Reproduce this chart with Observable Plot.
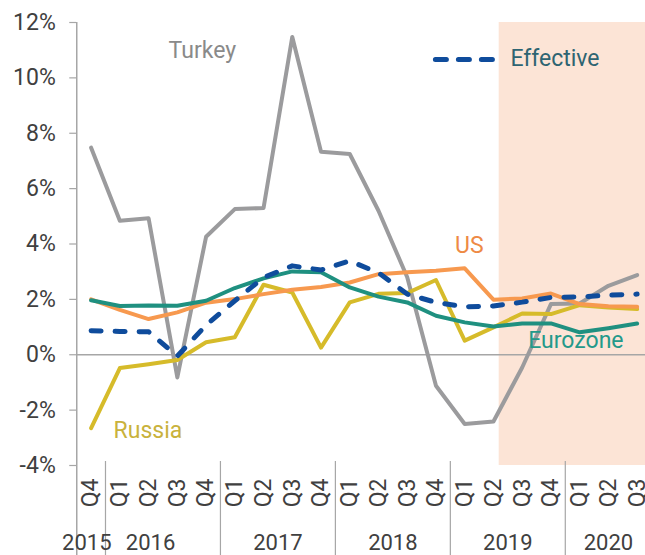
<!DOCTYPE html>
<html><head><meta charset="utf-8">
<script src="https://cdn.jsdelivr.net/npm/d3@7"></script>
<script src="https://cdn.jsdelivr.net/npm/@observablehq/plot@0.6"></script>
<style>
html,body{margin:0;padding:0;background:#fff;overflow:hidden}
#chart svg{display:block;overflow:visible}
</style></head><body><div id="chart"></div>
<script>
// Quarter labels, 2015 Q4 .. 2020 Q3
const quarters = ["Q4","Q1","Q2","Q3","Q4","Q1","Q2","Q3","Q4","Q1","Q2","Q3","Q4","Q1","Q2","Q3","Q4","Q1","Q2","Q3"];
const years = ["2015","2016","2017","2018","2019","2020"];
const yearPos = [-0.15, 2.07, 6.5, 10.5, 14.5, 18];
const yearBounds = [-0.5, 0.5, 4.5, 8.5, 12.5, 16.5];
const yTicks = [-4, -2, 0, 2, 4, 6, 8, 10, 12];

// Series values (% y/y)
const turkey    = [7.48, 4.84, 4.93, -0.82, 4.26, 5.26, 5.30, 11.48, 7.33, 7.25, 5.2, 2.8, -1.12, -2.5, -2.41, -0.46, 1.83, 1.85, 2.49, 2.88];
const us        = [2.0, 1.62, 1.29, 1.53, 1.88, 2.01, 2.19, 2.35, 2.45, 2.61, 2.91, 2.98, 3.03, 3.12, 1.99, 2.03, 2.21, 1.83, 1.75, 1.73];
const eurozone  = [1.97, 1.76, 1.78, 1.77, 1.95, 2.41, 2.76, 3.01, 2.98, 2.43, 2.1, 1.89, 1.41, 1.17, 1.02, 1.13, 1.13, 0.81, 0.96, 1.13];
const russia    = [-2.65, -0.48, -0.34, -0.19, 0.45, 0.63, 2.53, 2.25, 0.26, 1.89, 2.2, 2.23, 2.7, 0.51, 0.99, 1.49, 1.47, 1.79, 1.71, 1.65];
const effective = [0.87, 0.84, 0.83, -0.05, 1.07, 1.95, 2.79, 3.21, 3.06, 3.39, 2.96, 2.19, 1.89, 1.73, 1.76, 1.9, 2.07, 2.09, 2.15, 2.19];

// Shaded forecast period (in quarter-index units)
const shade = [14.2, 19.5];

// Series labels
const centeredLabels = [
  {name: "Turkey",   x: 3.87,  y: 10.97, color: "#8a8a8a"},
  {name: "US",       x: 13.16, y: 3.93,  color: "#ee8a45"}
];
const leftLabels = [
  {name: "Eurozone", x: 15.21, y: 0.51,  color: "#23998a"},
  {name: "Russia",   x: 0.78,  y: -2.74, color: "#c9b23c"},
  {name: "Effective",x: 14.59, y: 10.68, color: "#2e6472"}
];
const legendLine = [{x: 11.98, y: 10.66}, {x: 14.14, y: 10.66}];

const idx = quarters.map((q, i) => i);
const rows = arr => arr.map((v, i) => ({i, v}));

const chart = Plot.plot({
  width: 645, height: 555,
  marginLeft: 76, marginRight: 0, marginTop: 22, marginBottom: 90,
  style: {fontFamily: "Roboto, sans-serif", background: "white", color: "#404040", overflow: "visible"},
  x: {type: "linear", domain: [-0.5, 19.5], range: [76.25, 651], axis: null},
  y: {domain: [-4, 12], axis: null},
  marks: [
    Plot.rect([shade], {x1: d => d[0], x2: d => d[1], y1: () => -4, y2: () => 12, fill: "#fce4d6"}),
    Plot.ruleY([0], {stroke: "#a6a6a6", strokeWidth: 1.5}),
    // y axis line & ticks
    Plot.ruleX([yearBounds[0]], {y1: () => 12, y2: () => -4, insetBottom: -90, stroke: "#a6a6a6", strokeWidth: 1.5}),
    Plot.ruleX(yearBounds.slice(1), {y1: () => -4, y2: () => -4, insetTop: -4, insetBottom: -90, stroke: "#a6a6a6", strokeWidth: 1.2}),
    Plot.ruleY(yTicks, {y: d => d, x1: () => -0.5, x2: () => -0.5, insetLeft: -7, stroke: "#a6a6a6", strokeWidth: 1.2}),
    Plot.text(yTicks, {y: d => d, x: () => -0.5, text: d => d + "%", textAnchor: "end", dx: -21, fontSize: 23, fill: "#404040"}),
    // x labels
    Plot.text(idx, {x: d => d, y: () => -4, text: d => quarters[d], rotate: -90, textAnchor: "end", lineAnchor: "middle", dy: 13, fontSize: 23, fill: "#404040", letterSpacing: "3px"}),
    Plot.text(years, {x: (d, i) => yearPos[i], y: () => -4, text: d => d, dy: 77, fontSize: 22, fill: "#404040"}),
    // lines
    Plot.line(rows(turkey), {x: "i", y: "v", stroke: "#9b9b9d", strokeWidth: 4}),
    Plot.line(rows(russia), {x: "i", y: "v", stroke: "#d6bb2a", strokeWidth: 4}),
    Plot.line(rows(us), {x: "i", y: "v", stroke: "#f7994f", strokeWidth: 4}),
    Plot.line(rows(eurozone), {x: "i", y: "v", stroke: "#1f9080", strokeWidth: 4}),
    Plot.line(rows(effective), {x: "i", y: "v", stroke: "#0f4c9c", strokeWidth: 5, strokeDasharray: "10,14", strokeLinecap: "round"}),
    // labels + legend
    Plot.line(legendLine, {x: "x", y: "y", stroke: "#0f4c9c", strokeWidth: 5, strokeDasharray: "11,12", strokeLinecap: "round"}),
    Plot.text(centeredLabels, {x: "x", y: "y", text: "name", fill: d => d.color, textAnchor: "middle", fontSize: 23}),
    Plot.text(leftLabels, {x: "x", y: "y", text: "name", fill: d => d.color, textAnchor: "start", fontSize: 23})
  ]
});
document.getElementById("chart").appendChild(chart);
</script></body></html>
